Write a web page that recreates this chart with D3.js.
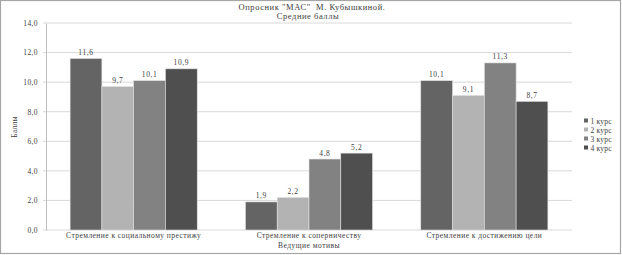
<!DOCTYPE html>
<html><head><meta charset="utf-8">
<script src="https://cdn.jsdelivr.net/npm/d3@7"></script>
<style>body{margin:0;background:#fff}svg{display:block}</style>
</head><body>
<svg id="c" width="622" height="255"></svg>
<script>
const categories = ["Стремление к социальному престижу", "Стремление к соперничеству", "Стремление к достижению цели"];
const seriesNames = ["1 курс", "2 курс", "3 курс", "4 курс"];
const kurs1 = [11.6, 1.9, 10.1];
const kurs2 = [9.7, 2.2, 9.1];
const kurs3 = [10.1, 4.8, 11.3];
const kurs4 = [10.9, 5.2, 8.7];
const yTicks = [0, 2, 4, 6, 8, 10, 12, 14];
const colors = ["#646464", "#b3b3b3", "#828282", "#4f4f4f"];
const series = [kurs1, kurs2, kurs3, kurs4];

const svg = d3.select("#c");
const W = 622, H = 255;
const font = "'Liberation Serif', 'Times New Roman', serif";
const txt = "#404040";
const fmt = v => d3.format(".1f")(v).replace(".", ",");

svg.append("rect").attr("x",0.5).attr("y",0.5).attr("width",W-2).attr("height",H-2)
  .attr("fill","#fff").attr("stroke","#a6a6a6").attr("stroke-width",1.2);

const pL = 46, pR = 572, pT = 23, pB = 230;
const x0 = d3.scaleBand().domain(categories).range([pL, pR]).paddingInner(0.275).paddingOuter(0.1375);
const x1 = d3.scaleBand().domain(seriesNames).range([0, x0.bandwidth()]);
const y = d3.scaleLinear().domain([0, 14]).range([pB, pT]);

// gridlines
svg.append("g").selectAll("line").data(yTicks).join("line")
  .attr("x1", pL - 3).attr("x2", pR)
  .attr("y1", d => y(d)).attr("y2", d => y(d))
  .attr("stroke", "#d9d9d9").attr("stroke-width", 1);

// y axis
const yAxis = d3.axisLeft(y).tickValues(yTicks).tickFormat(fmt).tickSize(0).tickPadding(8);
const ga = svg.append("g").attr("transform", `translate(${pL},0)`).call(yAxis);
ga.select(".domain").attr("stroke", "#bfbfbf");
ga.selectAll("text").attr("font-family", font).attr("font-size", 7.5).attr("letter-spacing", 0.4).attr("fill", txt);

// bars
const groups = svg.append("g").selectAll("g").data(categories).join("g")
  .attr("transform", c => `translate(${x0(c)},0)`);
groups.each(function(c, ci) {
  const g = d3.select(this);
  seriesNames.forEach((s, si) => {
    const v = series[si][ci];
    g.append("rect").attr("x", x1(s)).attr("width", x1.bandwidth())
      .attr("y", y(v)).attr("height", y(0) - y(v))
      .attr("fill", colors[si]).attr("stroke", "#e0e0e0").attr("stroke-width", 0.6);
    g.append("text").attr("x", x1(s) + x1.bandwidth() / 2).attr("y", y(v) - 3.5)
      .attr("text-anchor", "middle").attr("font-family", font).attr("font-size", 7.5)
      .attr("letter-spacing", 0.6).attr("fill", txt).text(fmt(v));
  });
});

// x axis labels
const xAxis = d3.axisBottom(x0).tickSize(0).tickPadding(3);
const gx = svg.append("g").attr("transform", `translate(0,${pB})`).call(xAxis);
gx.select(".domain").remove();
gx.selectAll("text").attr("font-family", font).attr("font-size", 7.5).attr("letter-spacing", 0.45).attr("fill", txt);

svg.append("text").attr("x", x0(categories[1]) + x0.bandwidth() / 2).attr("y", 248).attr("text-anchor", "middle")
  .attr("font-family", font).attr("font-size", 7.5).attr("letter-spacing", 0.5).attr("fill", txt).text("Ведущие мотивы");

svg.append("text").attr("transform", "translate(17,127) rotate(-90)").attr("text-anchor", "middle")
  .attr("font-family", font).attr("font-size", 7.5).attr("letter-spacing", 0.3).attr("fill", txt).text("Баллы");

// title
svg.append("text").attr("x", 312).attr("y", 10).attr("text-anchor", "middle")
  .attr("font-family", font).attr("font-size", 8.5).attr("letter-spacing", 0.55).attr("fill", txt)
  .attr("xml:space", "preserve").style("white-space", "pre").text("Опросник \"МАС\"  М. Кубышкиной.");
svg.append("text").attr("x", 308).attr("y", 18.5).attr("text-anchor", "middle")
  .attr("font-family", font).attr("font-size", 8.5).attr("letter-spacing", 0.55).attr("fill", txt).text("Средние баллы");

// legend
const lg = svg.append("g").selectAll("g").data(seriesNames).join("g")
  .attr("transform", (d, i) => `translate(584,${121 + i * 9})`);
lg.append("rect").attr("x", 0).attr("y", -2.5).attr("width", 4).attr("height", 4).attr("fill", (d, i) => colors[i]);
lg.append("text").attr("x", 6.5).attr("y", 2.5).attr("font-family", font).attr("font-size", 7.5)
  .attr("letter-spacing", 0.2).attr("fill", txt).text(d => d);
</script>
</body></html>
